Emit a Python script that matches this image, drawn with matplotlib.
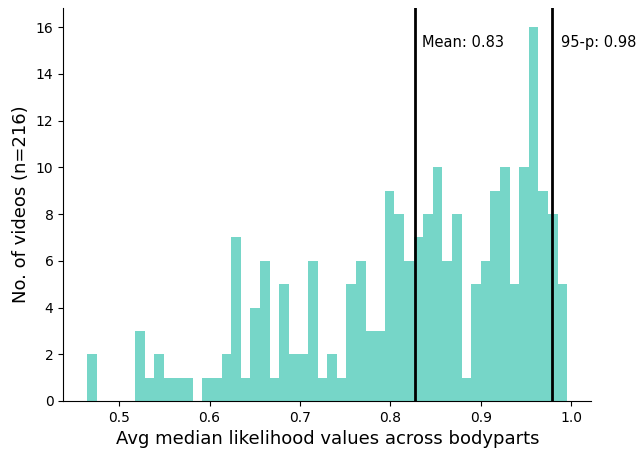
import numpy as np
import matplotlib
matplotlib.use("Agg")
import matplotlib.pyplot as plt

# histogram of per-video average median likelihood (50 equal bins)
bin_lo = 0.4647
bin_hi = 0.9958
n_bins = 50
counts = [2, 0, 0, 0, 0, 3, 1, 2, 1, 1,
          1, 0, 1, 1, 2, 7, 1, 4, 6, 1,
          5, 2, 2, 6, 1, 2, 1, 5, 6, 3,
          3, 9, 8, 6, 7, 8, 10, 6, 8, 1,
          5, 6, 9, 10, 5, 10, 16, 9, 8, 5]

mean_val = 0.8272
p95_val = 0.9794
mean_label = "Mean: 0.83"
p95_label = "95-p: 0.98"

edges = np.linspace(bin_lo, bin_hi, n_bins + 1)
centers = (edges[:-1] + edges[1:]) / 2

fig = plt.figure(figsize=(6.36, 4.51), dpi=100)
ax = fig.add_axes([0.0995, 0.1109, 0.8302, 0.8705])

ax.hist(centers, bins=edges, weights=counts, color="#76d6c8")

# ---------- reference lines ----------
ax.axvline(mean_val, color="black", linewidth=2)
ax.axvline(p95_val, color="black", linewidth=2)
ax.text(mean_val * 1.01, 15.15, mean_label, fontsize=10.5)
ax.text(p95_val * 1.01, 15.15, p95_label, fontsize=10.5)

ax.set_xlabel("Avg median likelihood values across bodyparts", fontsize=13)
ax.set_ylabel("No. of videos (n=216)", fontsize=13)
ax.spines["top"].set_visible(False)
ax.spines["right"].set_visible(False)

fig.savefig("out.png", dpi=100)
